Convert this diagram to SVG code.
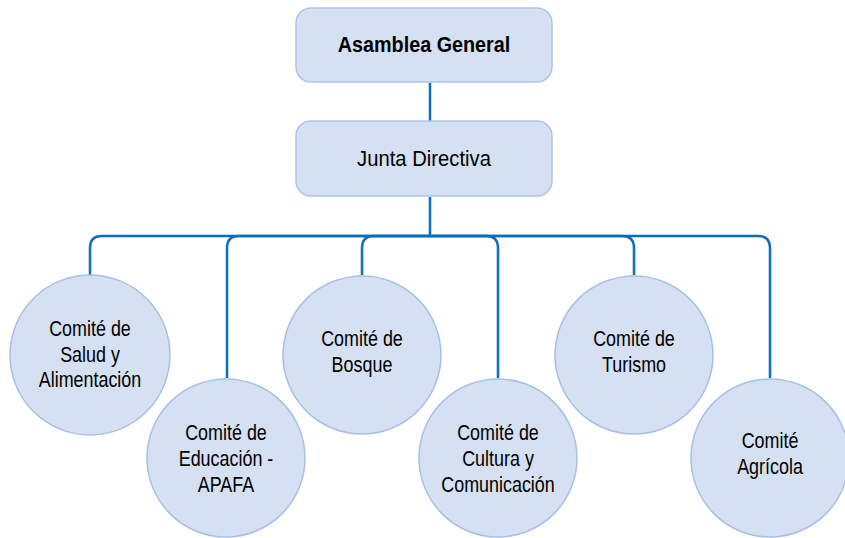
<svg xmlns="http://www.w3.org/2000/svg" width="845" height="538" viewBox="0 0 845 538">
<style>
.box{fill:#d5e0f2;stroke:#adc4e8;stroke-width:1.5}
.c{fill:#d5e0f2;stroke:#a7c0e6;stroke-width:1.5}
.ln{fill:none;stroke:#0b6fbd;stroke-width:2.5}
text{font-family:"Liberation Sans",Arial,sans-serif;font-size:22px;fill:#000;text-anchor:middle}
.b{font-weight:bold}
</style>
<rect width="845" height="538" fill="#fff"/>
<g id="connectors">
<path class="ln" d="M430 83V121"/>
<path class="ln" d="M430 197V236H102Q90 236 90 248V275"/>
<path class="ln" d="M430 236H239Q227 236 227 248V378"/>
<path class="ln" d="M430 236H374Q362 236 362 248V275"/>
<path class="ln" d="M430 236H486Q498 236 498 248V378"/>
<path class="ln" d="M430 236H622Q634 236 634 248V275"/>
<path class="ln" d="M430 236H758Q770 236 770 248V378"/>
</g>
<g id="asamblea"><rect class="box" x="296" y="8" width="256" height="74" rx="15"/><text class="b" transform="translate(424 52) scale(0.9 1)">Asamblea General</text></g>
<g id="junta"><rect class="box" x="296" y="121" width="256" height="75" rx="15"/><text transform="translate(424 166) scale(0.92 1)">Junta Directiva</text></g>
<g id="salud"><circle class="c" cx="90" cy="355" r="80"/><text transform="translate(90 336) scale(0.815 1)">Comité de</text><text transform="translate(90 362) scale(0.815 1)">Salud y</text><text transform="translate(90 387) scale(0.815 1)">Alimentación</text></g>
<g id="educacion"><circle class="c" cx="226" cy="458" r="79"/><text transform="translate(226 440) scale(0.815 1)">Comité de</text><text transform="translate(226 466) scale(0.815 1)">Educación -</text><text transform="translate(226 492) scale(0.815 1)">APAFA</text></g>
<g id="bosque"><circle class="c" cx="362" cy="355" r="79"/><text transform="translate(362 346) scale(0.815 1)">Comité de</text><text transform="translate(362 372) scale(0.815 1)">Bosque</text></g>
<g id="cultura"><circle class="c" cx="498" cy="458" r="79"/><text transform="translate(498 440) scale(0.815 1)">Comité de</text><text transform="translate(498 466) scale(0.815 1)">Cultura y</text><text transform="translate(498 492) scale(0.815 1)">Comunicación</text></g>
<g id="turismo"><circle class="c" cx="634" cy="355" r="79"/><text transform="translate(634 346) scale(0.815 1)">Comité de</text><text transform="translate(634 372) scale(0.815 1)">Turismo</text></g>
<g id="agricola"><circle class="c" cx="770" cy="458" r="79"/><text transform="translate(770 448) scale(0.815 1)">Comité</text><text transform="translate(770 474) scale(0.815 1)">Agrícola</text></g>
</svg>
